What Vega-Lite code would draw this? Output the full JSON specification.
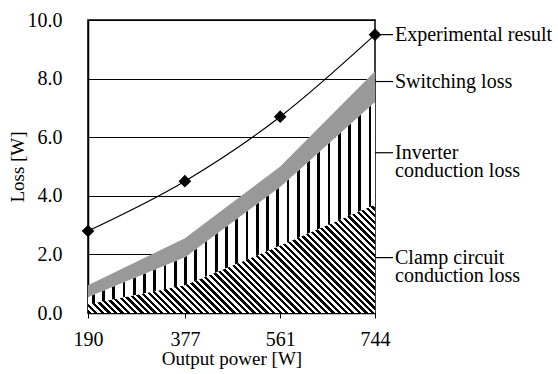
{
  "$schema": "https://vega.github.io/schema/vega-lite/v6.json",
  "width": 287,
  "height": 293,
  "autosize": {"type": "none"},
  "padding": {"left": 88, "top": 20, "right": 183, "bottom": 61},
  "background": "white",
  "config": {
    "font": "Liberation Serif",
    "style": {
      "guide-label": {"font": "Liberation Serif", "fontSize": 20, "fill": "black"},
      "guide-title": {"font": "Liberation Serif", "fontSize": 19, "fill": "black", "fontWeight": "normal"}
    },
    "view": {"stroke": "black", "strokeWidth": 1.5},
    "axis": {
      "domainColor": "black",
      "domainWidth": 1.5,
      "tickColor": "black",
      "tickWidth": 1,
      "labelFont": "Liberation Serif",
      "labelFontSize": 20,
      "labelColor": "black",
      "labelFlush": false,
      "titleFont": "Liberation Serif",
      "titleFontSize": 19,
      "titleFontWeight": "normal",
      "titleColor": "black",
      "gridColor": "black",
      "gridWidth": 1,
      "gridOpacity": 1
    }
  },
  "datasets": {
    "losses": [
      {"power": 190, "series": "clamp", "order": 1, "value": 0.3},
      {"power": 377, "series": "clamp", "order": 1, "value": 0.95},
      {"power": 561, "series": "clamp", "order": 1, "value": 2.3},
      {"power": 744, "series": "clamp", "order": 1, "value": 3.7},
      {"power": 190, "series": "inverter", "order": 2, "value": 0.25},
      {"power": 377, "series": "inverter", "order": 2, "value": 0.95},
      {"power": 561, "series": "inverter", "order": 2, "value": 2.0},
      {"power": 744, "series": "inverter", "order": 2, "value": 3.5},
      {"power": 190, "series": "switching", "order": 3, "value": 0.4},
      {"power": 377, "series": "switching", "order": 3, "value": 0.65},
      {"power": 561, "series": "switching", "order": 3, "value": 0.7},
      {"power": 744, "series": "switching", "order": 3, "value": 1.05}
    ],
    "experimental": [
      {"power": 190, "loss": 2.8},
      {"power": 377, "loss": 4.5},
      {"power": 561, "loss": 6.7},
      {"power": 744, "loss": 9.5}
    ],
    "labels": [
      {"x": 744, "y": 9.5, "text": "Experimental result"},
      {"x": 744, "y": 7.9, "text": "Switching loss"},
      {"x": 744, "y": 5.47, "text": "Inverter\nconduction loss"},
      {"x": 744, "y": 1.89, "text": "Clamp circuit\nconduction loss"}
    ]
  },
  "layer": [
    {
      "data": {"name": "losses"},
      "transform": [
        {"stack": "value", "groupby": ["power"], "sort": [{"field": "order", "order": "ascending"}], "as": ["lo", "hi"]},
        {"filter": "datum.series === 'clamp'"}
      ],
      "mark": {
        "type": "area",
        "opacity": 1,
        "fill": {
          "gradient": "linear", "x1": 0, "y1": 1, "x2": 1.2057, "y2": 0.5446,
          "stops": [
            {"offset": 0, "color": "#000"},
            {"offset": 0.0083, "color": "#000"}, {"offset": 0.0083, "color": "#fff"},
            {"offset": 0.0167, "color": "#fff"}, {"offset": 0.0167, "color": "#000"},
            {"offset": 0.025, "color": "#000"}, {"offset": 0.025, "color": "#fff"},
            {"offset": 0.0333, "color": "#fff"}, {"offset": 0.0333, "color": "#000"},
            {"offset": 0.0417, "color": "#000"}, {"offset": 0.0417, "color": "#fff"},
            {"offset": 0.05, "color": "#fff"}, {"offset": 0.05, "color": "#000"},
            {"offset": 0.0583, "color": "#000"}, {"offset": 0.0583, "color": "#fff"},
            {"offset": 0.0667, "color": "#fff"}, {"offset": 0.0667, "color": "#000"},
            {"offset": 0.075, "color": "#000"}, {"offset": 0.075, "color": "#fff"},
            {"offset": 0.0833, "color": "#fff"}, {"offset": 0.0833, "color": "#000"},
            {"offset": 0.0917, "color": "#000"}, {"offset": 0.0917, "color": "#fff"},
            {"offset": 0.1, "color": "#fff"}, {"offset": 0.1, "color": "#000"},
            {"offset": 0.1083, "color": "#000"}, {"offset": 0.1083, "color": "#fff"},
            {"offset": 0.1167, "color": "#fff"}, {"offset": 0.1167, "color": "#000"},
            {"offset": 0.125, "color": "#000"}, {"offset": 0.125, "color": "#fff"},
            {"offset": 0.1333, "color": "#fff"}, {"offset": 0.1333, "color": "#000"},
            {"offset": 0.1417, "color": "#000"}, {"offset": 0.1417, "color": "#fff"},
            {"offset": 0.15, "color": "#fff"}, {"offset": 0.15, "color": "#000"},
            {"offset": 0.1583, "color": "#000"}, {"offset": 0.1583, "color": "#fff"},
            {"offset": 0.1667, "color": "#fff"}, {"offset": 0.1667, "color": "#000"},
            {"offset": 0.175, "color": "#000"}, {"offset": 0.175, "color": "#fff"},
            {"offset": 0.1833, "color": "#fff"}, {"offset": 0.1833, "color": "#000"},
            {"offset": 0.1917, "color": "#000"}, {"offset": 0.1917, "color": "#fff"},
            {"offset": 0.2, "color": "#fff"}, {"offset": 0.2, "color": "#000"},
            {"offset": 0.2083, "color": "#000"}, {"offset": 0.2083, "color": "#fff"},
            {"offset": 0.2167, "color": "#fff"}, {"offset": 0.2167, "color": "#000"},
            {"offset": 0.225, "color": "#000"}, {"offset": 0.225, "color": "#fff"},
            {"offset": 0.2333, "color": "#fff"}, {"offset": 0.2333, "color": "#000"},
            {"offset": 0.2417, "color": "#000"}, {"offset": 0.2417, "color": "#fff"},
            {"offset": 0.25, "color": "#fff"}, {"offset": 0.25, "color": "#000"},
            {"offset": 0.2583, "color": "#000"}, {"offset": 0.2583, "color": "#fff"},
            {"offset": 0.2667, "color": "#fff"}, {"offset": 0.2667, "color": "#000"},
            {"offset": 0.275, "color": "#000"}, {"offset": 0.275, "color": "#fff"},
            {"offset": 0.2833, "color": "#fff"}, {"offset": 0.2833, "color": "#000"},
            {"offset": 0.2917, "color": "#000"}, {"offset": 0.2917, "color": "#fff"},
            {"offset": 0.3, "color": "#fff"}, {"offset": 0.3, "color": "#000"},
            {"offset": 0.3083, "color": "#000"}, {"offset": 0.3083, "color": "#fff"},
            {"offset": 0.3167, "color": "#fff"}, {"offset": 0.3167, "color": "#000"},
            {"offset": 0.325, "color": "#000"}, {"offset": 0.325, "color": "#fff"},
            {"offset": 0.3333, "color": "#fff"}, {"offset": 0.3333, "color": "#000"},
            {"offset": 0.3417, "color": "#000"}, {"offset": 0.3417, "color": "#fff"},
            {"offset": 0.35, "color": "#fff"}, {"offset": 0.35, "color": "#000"},
            {"offset": 0.3583, "color": "#000"}, {"offset": 0.3583, "color": "#fff"},
            {"offset": 0.3667, "color": "#fff"}, {"offset": 0.3667, "color": "#000"},
            {"offset": 0.375, "color": "#000"}, {"offset": 0.375, "color": "#fff"},
            {"offset": 0.3833, "color": "#fff"}, {"offset": 0.3833, "color": "#000"},
            {"offset": 0.3917, "color": "#000"}, {"offset": 0.3917, "color": "#fff"},
            {"offset": 0.4, "color": "#fff"}, {"offset": 0.4, "color": "#000"},
            {"offset": 0.4083, "color": "#000"}, {"offset": 0.4083, "color": "#fff"},
            {"offset": 0.4167, "color": "#fff"}, {"offset": 0.4167, "color": "#000"},
            {"offset": 0.425, "color": "#000"}, {"offset": 0.425, "color": "#fff"},
            {"offset": 0.4333, "color": "#fff"}, {"offset": 0.4333, "color": "#000"},
            {"offset": 0.4417, "color": "#000"}, {"offset": 0.4417, "color": "#fff"},
            {"offset": 0.45, "color": "#fff"}, {"offset": 0.45, "color": "#000"},
            {"offset": 0.4583, "color": "#000"}, {"offset": 0.4583, "color": "#fff"},
            {"offset": 0.4667, "color": "#fff"}, {"offset": 0.4667, "color": "#000"},
            {"offset": 0.475, "color": "#000"}, {"offset": 0.475, "color": "#fff"},
            {"offset": 0.4833, "color": "#fff"}, {"offset": 0.4833, "color": "#000"},
            {"offset": 0.4917, "color": "#000"}, {"offset": 0.4917, "color": "#fff"},
            {"offset": 0.5, "color": "#fff"}, {"offset": 0.5, "color": "#000"},
            {"offset": 0.5083, "color": "#000"}, {"offset": 0.5083, "color": "#fff"},
            {"offset": 0.5167, "color": "#fff"}, {"offset": 0.5167, "color": "#000"},
            {"offset": 0.525, "color": "#000"}, {"offset": 0.525, "color": "#fff"},
            {"offset": 0.5333, "color": "#fff"}, {"offset": 0.5333, "color": "#000"},
            {"offset": 0.5417, "color": "#000"}, {"offset": 0.5417, "color": "#fff"},
            {"offset": 0.55, "color": "#fff"}, {"offset": 0.55, "color": "#000"},
            {"offset": 0.5583, "color": "#000"}, {"offset": 0.5583, "color": "#fff"},
            {"offset": 0.5667, "color": "#fff"}, {"offset": 0.5667, "color": "#000"},
            {"offset": 0.575, "color": "#000"}, {"offset": 0.575, "color": "#fff"},
            {"offset": 0.5833, "color": "#fff"}, {"offset": 0.5833, "color": "#000"},
            {"offset": 0.5917, "color": "#000"}, {"offset": 0.5917, "color": "#fff"},
            {"offset": 0.6, "color": "#fff"}, {"offset": 0.6, "color": "#000"},
            {"offset": 0.6083, "color": "#000"}, {"offset": 0.6083, "color": "#fff"},
            {"offset": 0.6167, "color": "#fff"}, {"offset": 0.6167, "color": "#000"},
            {"offset": 0.625, "color": "#000"}, {"offset": 0.625, "color": "#fff"},
            {"offset": 0.6333, "color": "#fff"}, {"offset": 0.6333, "color": "#000"},
            {"offset": 0.6417, "color": "#000"}, {"offset": 0.6417, "color": "#fff"},
            {"offset": 0.65, "color": "#fff"}, {"offset": 0.65, "color": "#000"},
            {"offset": 0.6583, "color": "#000"}, {"offset": 0.6583, "color": "#fff"},
            {"offset": 0.6667, "color": "#fff"}, {"offset": 0.6667, "color": "#000"},
            {"offset": 0.675, "color": "#000"}, {"offset": 0.675, "color": "#fff"},
            {"offset": 0.6833, "color": "#fff"}, {"offset": 0.6833, "color": "#000"},
            {"offset": 0.6917, "color": "#000"}, {"offset": 0.6917, "color": "#fff"},
            {"offset": 0.7, "color": "#fff"}, {"offset": 0.7, "color": "#000"},
            {"offset": 0.7083, "color": "#000"}, {"offset": 0.7083, "color": "#fff"},
            {"offset": 0.7167, "color": "#fff"}, {"offset": 0.7167, "color": "#000"},
            {"offset": 0.725, "color": "#000"}, {"offset": 0.725, "color": "#fff"},
            {"offset": 0.7333, "color": "#fff"}, {"offset": 0.7333, "color": "#000"},
            {"offset": 0.7417, "color": "#000"}, {"offset": 0.7417, "color": "#fff"},
            {"offset": 0.75, "color": "#fff"}, {"offset": 0.75, "color": "#000"},
            {"offset": 0.7583, "color": "#000"}, {"offset": 0.7583, "color": "#fff"},
            {"offset": 0.7667, "color": "#fff"}, {"offset": 0.7667, "color": "#000"},
            {"offset": 0.775, "color": "#000"}, {"offset": 0.775, "color": "#fff"},
            {"offset": 0.7833, "color": "#fff"}, {"offset": 0.7833, "color": "#000"},
            {"offset": 0.7917, "color": "#000"}, {"offset": 0.7917, "color": "#fff"},
            {"offset": 0.8, "color": "#fff"}, {"offset": 0.8, "color": "#000"},
            {"offset": 0.8083, "color": "#000"}, {"offset": 0.8083, "color": "#fff"},
            {"offset": 0.8167, "color": "#fff"}, {"offset": 0.8167, "color": "#000"},
            {"offset": 0.825, "color": "#000"}, {"offset": 0.825, "color": "#fff"},
            {"offset": 0.8333, "color": "#fff"}, {"offset": 0.8333, "color": "#000"},
            {"offset": 0.8417, "color": "#000"}, {"offset": 0.8417, "color": "#fff"},
            {"offset": 0.85, "color": "#fff"}, {"offset": 0.85, "color": "#000"},
            {"offset": 0.8583, "color": "#000"}, {"offset": 0.8583, "color": "#fff"},
            {"offset": 0.8667, "color": "#fff"}, {"offset": 0.8667, "color": "#000"},
            {"offset": 0.875, "color": "#000"}, {"offset": 0.875, "color": "#fff"},
            {"offset": 0.8833, "color": "#fff"}, {"offset": 0.8833, "color": "#000"},
            {"offset": 0.8917, "color": "#000"}, {"offset": 0.8917, "color": "#fff"},
            {"offset": 0.9, "color": "#fff"}, {"offset": 0.9, "color": "#000"},
            {"offset": 0.9083, "color": "#000"}, {"offset": 0.9083, "color": "#fff"},
            {"offset": 0.9167, "color": "#fff"}, {"offset": 0.9167, "color": "#000"},
            {"offset": 0.925, "color": "#000"}, {"offset": 0.925, "color": "#fff"},
            {"offset": 0.9333, "color": "#fff"}, {"offset": 0.9333, "color": "#000"},
            {"offset": 0.9417, "color": "#000"}, {"offset": 0.9417, "color": "#fff"},
            {"offset": 0.95, "color": "#fff"}, {"offset": 0.95, "color": "#000"},
            {"offset": 0.9583, "color": "#000"}, {"offset": 0.9583, "color": "#fff"},
            {"offset": 0.9667, "color": "#fff"}, {"offset": 0.9667, "color": "#000"},
            {"offset": 0.975, "color": "#000"}, {"offset": 0.975, "color": "#fff"},
            {"offset": 0.9833, "color": "#fff"}, {"offset": 0.9833, "color": "#000"},
            {"offset": 0.9917, "color": "#000"}, {"offset": 0.9917, "color": "#fff"},
            {"offset": 1, "color": "#fff"}
          ]
        }
      },
      "encoding": {
        "x": {
          "field": "power", "type": "quantitative",
          "scale": {"domain": [190, 744], "nice": false, "zero": false},
          "axis": {"values": [190, 377, 561, 744], "format": "d", "title": "Output power [W]", "grid": false, "tickSize": 5, "labelPadding": 11, "titlePadding": 0, "labelFlush": false, "labelFont": "Liberation Serif", "labelFontSize": 20, "titleFont": "Liberation Serif", "titleFontSize": 19}
        },
        "y": {
          "field": "hi", "type": "quantitative",
          "scale": {"domain": [0, 10], "nice": false},
          "axis": {"values": [0, 2, 4, 6, 8, 10], "format": ".1f", "title": "Loss [W]", "grid": true, "ticks": false, "tickSize": 0, "labelPadding": 26, "titlePadding": 0, "labelFlush": false, "labelFont": "Liberation Serif", "labelFontSize": 20, "titleFont": "Liberation Serif", "titleFontSize": 19}
        },
        "y2": {"field": "lo"}
      }
    },
    {
      "data": {"name": "losses"},
      "transform": [
        {"stack": "value", "groupby": ["power"], "sort": [{"field": "order", "order": "ascending"}], "as": ["lo", "hi"]},
        {"filter": "datum.series === 'inverter'"}
      ],
      "mark": {
        "type": "area",
        "opacity": 1,
        "fill": {
          "gradient": "linear", "x1": 0, "y1": 0, "x2": 1, "y2": 0,
          "stops": [
            {"offset": 0, "color": "#fff"},
            {"offset": 0.0138, "color": "#fff"}, {"offset": 0.0138, "color": "#000"}, {"offset": 0.0232, "color": "#000"}, {"offset": 0.0232, "color": "#fff"},
            {"offset": 0.0495, "color": "#fff"}, {"offset": 0.0495, "color": "#000"}, {"offset": 0.0589, "color": "#000"}, {"offset": 0.0589, "color": "#fff"},
            {"offset": 0.0852, "color": "#fff"}, {"offset": 0.0852, "color": "#000"}, {"offset": 0.0946, "color": "#000"}, {"offset": 0.0946, "color": "#fff"},
            {"offset": 0.1209, "color": "#fff"}, {"offset": 0.1209, "color": "#000"}, {"offset": 0.1303, "color": "#000"}, {"offset": 0.1303, "color": "#fff"},
            {"offset": 0.1567, "color": "#fff"}, {"offset": 0.1567, "color": "#000"}, {"offset": 0.1661, "color": "#000"}, {"offset": 0.1661, "color": "#fff"},
            {"offset": 0.1924, "color": "#fff"}, {"offset": 0.1924, "color": "#000"}, {"offset": 0.2018, "color": "#000"}, {"offset": 0.2018, "color": "#fff"},
            {"offset": 0.2281, "color": "#fff"}, {"offset": 0.2281, "color": "#000"}, {"offset": 0.2375, "color": "#000"}, {"offset": 0.2375, "color": "#fff"},
            {"offset": 0.2638, "color": "#fff"}, {"offset": 0.2638, "color": "#000"}, {"offset": 0.2732, "color": "#000"}, {"offset": 0.2732, "color": "#fff"},
            {"offset": 0.2995, "color": "#fff"}, {"offset": 0.2995, "color": "#000"}, {"offset": 0.3089, "color": "#000"}, {"offset": 0.3089, "color": "#fff"},
            {"offset": 0.3352, "color": "#fff"}, {"offset": 0.3352, "color": "#000"}, {"offset": 0.3446, "color": "#000"}, {"offset": 0.3446, "color": "#fff"},
            {"offset": 0.3709, "color": "#fff"}, {"offset": 0.3709, "color": "#000"}, {"offset": 0.3803, "color": "#000"}, {"offset": 0.3803, "color": "#fff"},
            {"offset": 0.4067, "color": "#fff"}, {"offset": 0.4067, "color": "#000"}, {"offset": 0.4161, "color": "#000"}, {"offset": 0.4161, "color": "#fff"},
            {"offset": 0.4424, "color": "#fff"}, {"offset": 0.4424, "color": "#000"}, {"offset": 0.4518, "color": "#000"}, {"offset": 0.4518, "color": "#fff"},
            {"offset": 0.4781, "color": "#fff"}, {"offset": 0.4781, "color": "#000"}, {"offset": 0.4875, "color": "#000"}, {"offset": 0.4875, "color": "#fff"},
            {"offset": 0.5138, "color": "#fff"}, {"offset": 0.5138, "color": "#000"}, {"offset": 0.5232, "color": "#000"}, {"offset": 0.5232, "color": "#fff"},
            {"offset": 0.5495, "color": "#fff"}, {"offset": 0.5495, "color": "#000"}, {"offset": 0.5589, "color": "#000"}, {"offset": 0.5589, "color": "#fff"},
            {"offset": 0.5852, "color": "#fff"}, {"offset": 0.5852, "color": "#000"}, {"offset": 0.5946, "color": "#000"}, {"offset": 0.5946, "color": "#fff"},
            {"offset": 0.6209, "color": "#fff"}, {"offset": 0.6209, "color": "#000"}, {"offset": 0.6303, "color": "#000"}, {"offset": 0.6303, "color": "#fff"},
            {"offset": 0.6567, "color": "#fff"}, {"offset": 0.6567, "color": "#000"}, {"offset": 0.6661, "color": "#000"}, {"offset": 0.6661, "color": "#fff"},
            {"offset": 0.6924, "color": "#fff"}, {"offset": 0.6924, "color": "#000"}, {"offset": 0.7018, "color": "#000"}, {"offset": 0.7018, "color": "#fff"},
            {"offset": 0.7281, "color": "#fff"}, {"offset": 0.7281, "color": "#000"}, {"offset": 0.7375, "color": "#000"}, {"offset": 0.7375, "color": "#fff"},
            {"offset": 0.7638, "color": "#fff"}, {"offset": 0.7638, "color": "#000"}, {"offset": 0.7732, "color": "#000"}, {"offset": 0.7732, "color": "#fff"},
            {"offset": 0.7995, "color": "#fff"}, {"offset": 0.7995, "color": "#000"}, {"offset": 0.8089, "color": "#000"}, {"offset": 0.8089, "color": "#fff"},
            {"offset": 0.8352, "color": "#fff"}, {"offset": 0.8352, "color": "#000"}, {"offset": 0.8446, "color": "#000"}, {"offset": 0.8446, "color": "#fff"},
            {"offset": 0.8709, "color": "#fff"}, {"offset": 0.8709, "color": "#000"}, {"offset": 0.8803, "color": "#000"}, {"offset": 0.8803, "color": "#fff"},
            {"offset": 0.9067, "color": "#fff"}, {"offset": 0.9067, "color": "#000"}, {"offset": 0.9161, "color": "#000"}, {"offset": 0.9161, "color": "#fff"},
            {"offset": 0.9424, "color": "#fff"}, {"offset": 0.9424, "color": "#000"}, {"offset": 0.9518, "color": "#000"}, {"offset": 0.9518, "color": "#fff"},
            {"offset": 0.9781, "color": "#fff"}, {"offset": 0.9781, "color": "#000"}, {"offset": 0.9875, "color": "#000"}, {"offset": 0.9875, "color": "#fff"},
            {"offset": 1, "color": "#fff"}
          ]
        }
      },
      "encoding": {
        "x": {"field": "power", "type": "quantitative", "title": "Output power [W]"},
        "y": {"field": "hi", "type": "quantitative", "title": "Loss [W]"},
        "y2": {"field": "lo"}
      }
    },
    {
      "data": {"name": "losses"},
      "transform": [
        {"stack": "value", "groupby": ["power"], "sort": [{"field": "order", "order": "ascending"}], "as": ["lo", "hi"]},
        {"filter": "datum.series === 'switching'"}
      ],
      "mark": {"type": "area", "opacity": 1, "fill": "#999999"},
      "encoding": {
        "x": {"field": "power", "type": "quantitative", "title": "Output power [W]"},
        "y": {"field": "hi", "type": "quantitative", "title": "Loss [W]"},
        "y2": {"field": "lo"}
      }
    },
    {
      "data": {"name": "experimental"},
      "mark": {"type": "line", "color": "black", "strokeWidth": 1.2, "interpolate": "monotone"},
      "encoding": {
        "x": {"field": "power", "type": "quantitative", "title": "Output power [W]"},
        "y": {"field": "loss", "type": "quantitative", "title": "Loss [W]"}
      }
    },
    {
      "data": {"name": "experimental"},
      "mark": {"type": "point", "shape": "diamond", "filled": true, "color": "black", "opacity": 1, "size": 160},
      "encoding": {
        "x": {"field": "power", "type": "quantitative", "title": "Output power [W]"},
        "y": {"field": "loss", "type": "quantitative", "title": "Loss [W]"}
      }
    },
    {
      "data": {"name": "labels"},
      "mark": {"type": "rule", "color": "black", "strokeWidth": 1.2, "x2Offset": 18, "clip": false},
      "encoding": {
        "x": {"field": "x", "type": "quantitative", "title": "Output power [W]"},
        "x2": {"field": "x"},
        "y": {"field": "y", "type": "quantitative", "title": "Loss [W]"}
      }
    },
    {
      "data": {"name": "labels"},
      "mark": {"type": "text", "align": "left", "baseline": "alphabetic", "dx": 20, "dy": 6, "font": "Liberation Serif", "fontSize": 20, "lineHeight": 18.5, "lineBreak": "\n", "color": "black"},
      "encoding": {
        "x": {"field": "x", "type": "quantitative", "title": "Output power [W]"},
        "y": {"field": "y", "type": "quantitative", "title": "Loss [W]"},
        "text": {"field": "text", "type": "nominal"}
      }
    }
  ]
}
